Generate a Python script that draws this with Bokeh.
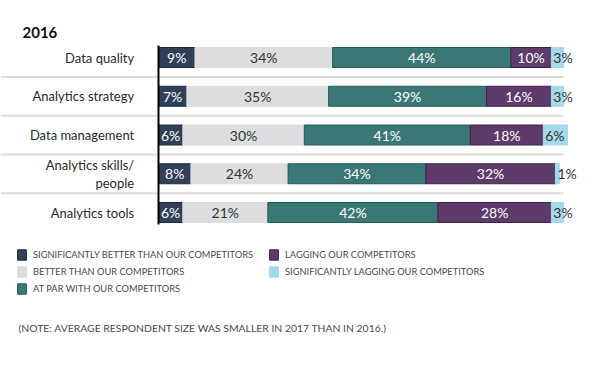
import numpy as np
from bokeh.plotting import figure
from bokeh.models import ColumnDataSource, Range1d, Label, Legend, LegendItem
from bokeh.core.properties import value
from bokeh.embed import file_html
from bokeh.resources import INLINE

title_text = "2016"
categories = ["Data quality", "Analytics strategy", "Data management", "Analytics skills/\npeople", "Analytics tools"]
series_names = [
    "SIGNIFICANTLY BETTER THAN OUR COMPETITORS",
    "BETTER THAN OUR COMPETITORS",
    "AT PAR WITH OUR COMPETITORS",
    "LAGGING OUR COMPETITORS",
    "SIGNIFICANTLY LAGGING OUR COMPETITORS",
]
sig_better = [9, 7, 6, 8, 6]
better = [34, 35, 30, 24, 21]
at_par = [44, 39, 41, 34, 42]
lagging = [10, 16, 18, 32, 28]
sig_lagging = [3, 3, 6, 1, 3]
note_text = "(NOTE: AVERAGE RESPONDENT SIZE WAS SMALLER IN 2017 THAN IN 2016.)"

fills = ["#2f4058", "#dcdddf", "#3b7774", "#5f3b6b", "#a4d9ea"]
borders = ["#1c2a3c", "#dcdddf", "#1f5c59", "#3d2049", "#a4d9ea"]
label_colors = ["white", "#333333", "white", "white", "#333333"]

FONT = "Lato"
W, H = 584, 353
px_per_pct = 4.05
x0_px = 158
row0_px = 57
row_step = 38.75

p = figure(width=W, height=H, output_backend="svg", toolbar_location=None,
           min_border=0, min_border_left=0, min_border_right=0,
           min_border_top=0, min_border_bottom=0,
           x_range=Range1d(-x0_px / px_per_pct, (W - x0_px) / px_per_pct),
           y_range=Range1d((H - row0_px) / row_step, -row0_px / row_step))
p.axis.visible = False
p.grid.visible = False
p.outline_line_color = None
p.background_fill_color = "white"
p.border_fill_color = "white"

ys = np.arange(len(categories))

# separators
sep_y = ys[:-1] + 0.5
p.segment(x0=[p.x_range.start] * len(sep_y), x1=[100] * len(sep_y), y0=sep_y, y1=sep_y,
          line_color="#dcdcdc", line_width=2)

series = [sig_better, better, at_par, lagging, sig_lagging]
vals = np.array(series, dtype=float)
ends = np.cumsum(vals, axis=0)
starts = ends - vals

renderers = []
bar_h = 20 / row_step
for k in range(len(series)):
    src = ColumnDataSource(dict(y=ys, left=starts[k], right=ends[k],
                                mid=(starts[k] + ends[k]) / 2,
                                lab=[f"{int(v)}%" for v in vals[k]]))
    r = p.hbar(y="y", left="left", right="right", height=bar_h, source=src,
               fill_color=fills[k], line_color=borders[k], line_width=1)
    renderers.append(r)
    if k == len(series) - 1:
        p.text(x="left", y="y", text="lab", source=src, x_offset=2,
               text_font=value(FONT), text_font_size="14px", text_color=label_colors[k],
               text_align="left", text_baseline="middle")
    else:
        p.text(x="mid", y="y", text="lab", source=src,
               text_font=value(FONT), text_font_size="14px", text_color=label_colors[k],
               text_align="center", text_baseline="middle")

# axis line
p.segment(x0=[0], x1=[0], y0=[-0.31], y1=[len(categories) - 1 + 0.31], line_color="black", line_width=2)

# category labels
csrc = ColumnDataSource(dict(x=[-6] * len(categories), y=ys, t=categories))
p.text(x="x", y="y", text="t", source=csrc, text_font=value(FONT), text_font_size="13px",
       text_color="#2a2a2a", text_align="right", text_baseline="middle", text_line_height=1.12)

p.add_layout(Label(x=22, y=H - 32, x_units="screen", y_units="screen", text=title_text,
                   text_font=FONT, text_font_size="15px", text_font_style="bold",
                   text_color="#111111", text_baseline="middle"))

p.add_layout(Label(x=18, y=H - 327, x_units="screen", y_units="screen", text=note_text,
                   text_font=FONT, text_font_size="10.4px", text_color="#4a4a4a",
                   text_baseline="middle"))

def make_legend(idx, loc):
    lg = Legend(items=[LegendItem(label=series_names[i], renderers=[renderers[i]]) for i in idx],
                location=loc, orientation="vertical", padding=0, margin=0,
                border_line_color=None, background_fill_alpha=0,
                glyph_width=11, glyph_height=13, label_height=12, spacing=4,
                label_standoff=6, label_text_font=FONT, label_text_font_size="9.3px",
                label_text_color="#4a4a4a")
    p.add_layout(lg, "center")

make_legend([0, 1, 2], (16, H - 249 - 46))
make_legend([3, 4], (268, H - 249 - 29))

open("out.html", "w").write(file_html(p, INLINE))
